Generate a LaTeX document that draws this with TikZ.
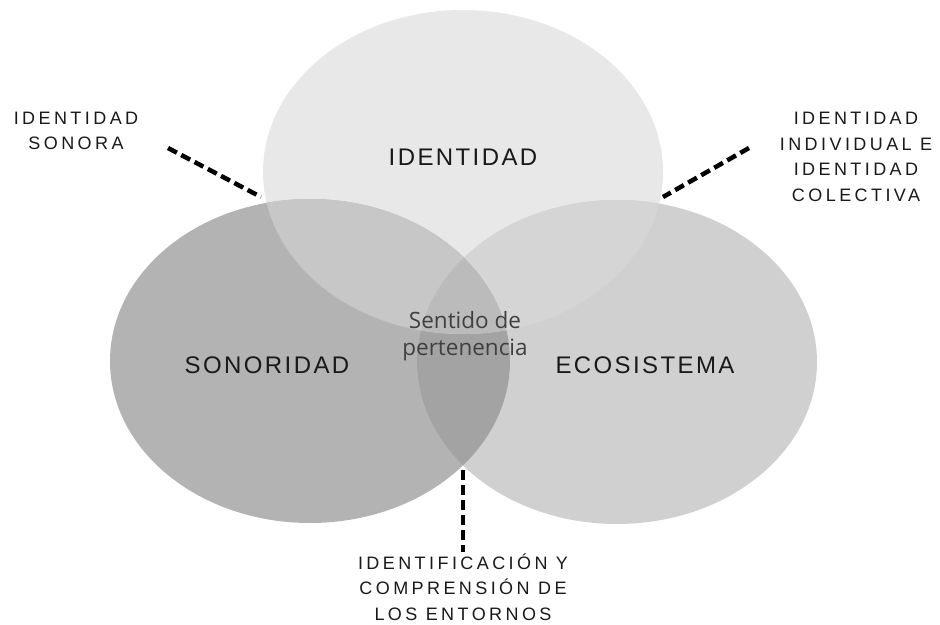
\documentclass[tikz,border=0pt]{standalone}
\usepackage{fontspec}
\usepackage{tikz}
\setmainfont{Liberation Sans}
\newfontfamily\bigfont[LetterSpace=10]{Liberation Sans}
\newfontfamily\smallfont[LetterSpace=19]{Liberation Sans}
\newfontfamily\softfont{Open Sans}

\definecolor{cTop}{HTML}{E8E8E8}
\definecolor{cLeft}{HTML}{B3B3B3}
\definecolor{cRight}{HTML}{D0D0D0}
\definecolor{cTopLeft}{HTML}{C7C7C7}
\definecolor{cTopRight}{HTML}{D5D5D5}
\definecolor{cLeftRight}{HTML}{A3A3A3}
\definecolor{cAll}{HTML}{BBBBBB}

\def\topellipse{(463,172) ellipse (200 and 162)}
\def\leftellipse{(310,361) ellipse (200 and 162)}
\def\rightellipse{(617,362) ellipse (200 and 162)}

\begin{document}
\begin{tikzpicture}[x=1pt,y=-1pt,
	biglabel/.style={text=black!90,font=\bigfont\fontsize{24}{28}\selectfont},
	smalllabel/.style={text=black!90,align=center,font=\smallfont\fontsize{18}{25.5}\selectfont,inner sep=0pt},
	dashline/.style={line width=4.5pt,dash pattern=on 10pt off 5pt}]
			\useasboundingbox (0,0) rectangle (940,624);
			
			% the three sets
			\fill[cTop] \topellipse;
			\fill[cLeft] \leftellipse;
			\fill[cRight] \rightellipse;
			\begin{scope}
				\clip \leftellipse;
				\fill[cTopLeft] \topellipse;
				\fill[cLeftRight] \rightellipse;
			\end{scope}
			\begin{scope}
				\clip \rightellipse;
				\fill[cTopRight] \topellipse;
			\end{scope}
			\begin{scope}
				\clip \leftellipse;
				\clip \rightellipse;
				\fill[cAll] \topellipse;
			\end{scope}
			
			\node[biglabel] (identidad) at (463,157) {IDENTIDAD};
			\node[biglabel] (sonoridad) at (267,365) {SONORIDAD};
			\node[biglabel] (ecosistema) at (645,365) {ECOSISTEMA};
			\node[align=center,text=black!75,font=\softfont\fontsize{22.5}{27}\selectfont] (sentido) at (465,336) {Sentido de\\pertenencia};
			
			\node[smalllabel] (sonora) at (76,131) {IDENTIDAD\\SONORA};
			\node[smalllabel] (colectiva) at (856,157) {IDENTIDAD\\INDIVIDUAL E\\IDENTIDAD\\COLECTIVA};
			\node[smalllabel] (entornos) at (463,587) {IDENTIFICACIÓN Y\\COMPRENSIÓN DE\\LOS ENTORNOS};
			
			\coordinate (a1) at (168,148);
			\coordinate (a2) at (261,197);
			\coordinate (b1) at (749,148);
			\coordinate (b2) at (663,197);
			\coordinate (c1) at (463,470);
			\coordinate (c2) at (463,552);
			\foreach \s/\e in {a1/a2,b1/b2,c1/c2}
			\draw[dashline] (\s) -- (\e);
			\end{tikzpicture}
\end{document}
